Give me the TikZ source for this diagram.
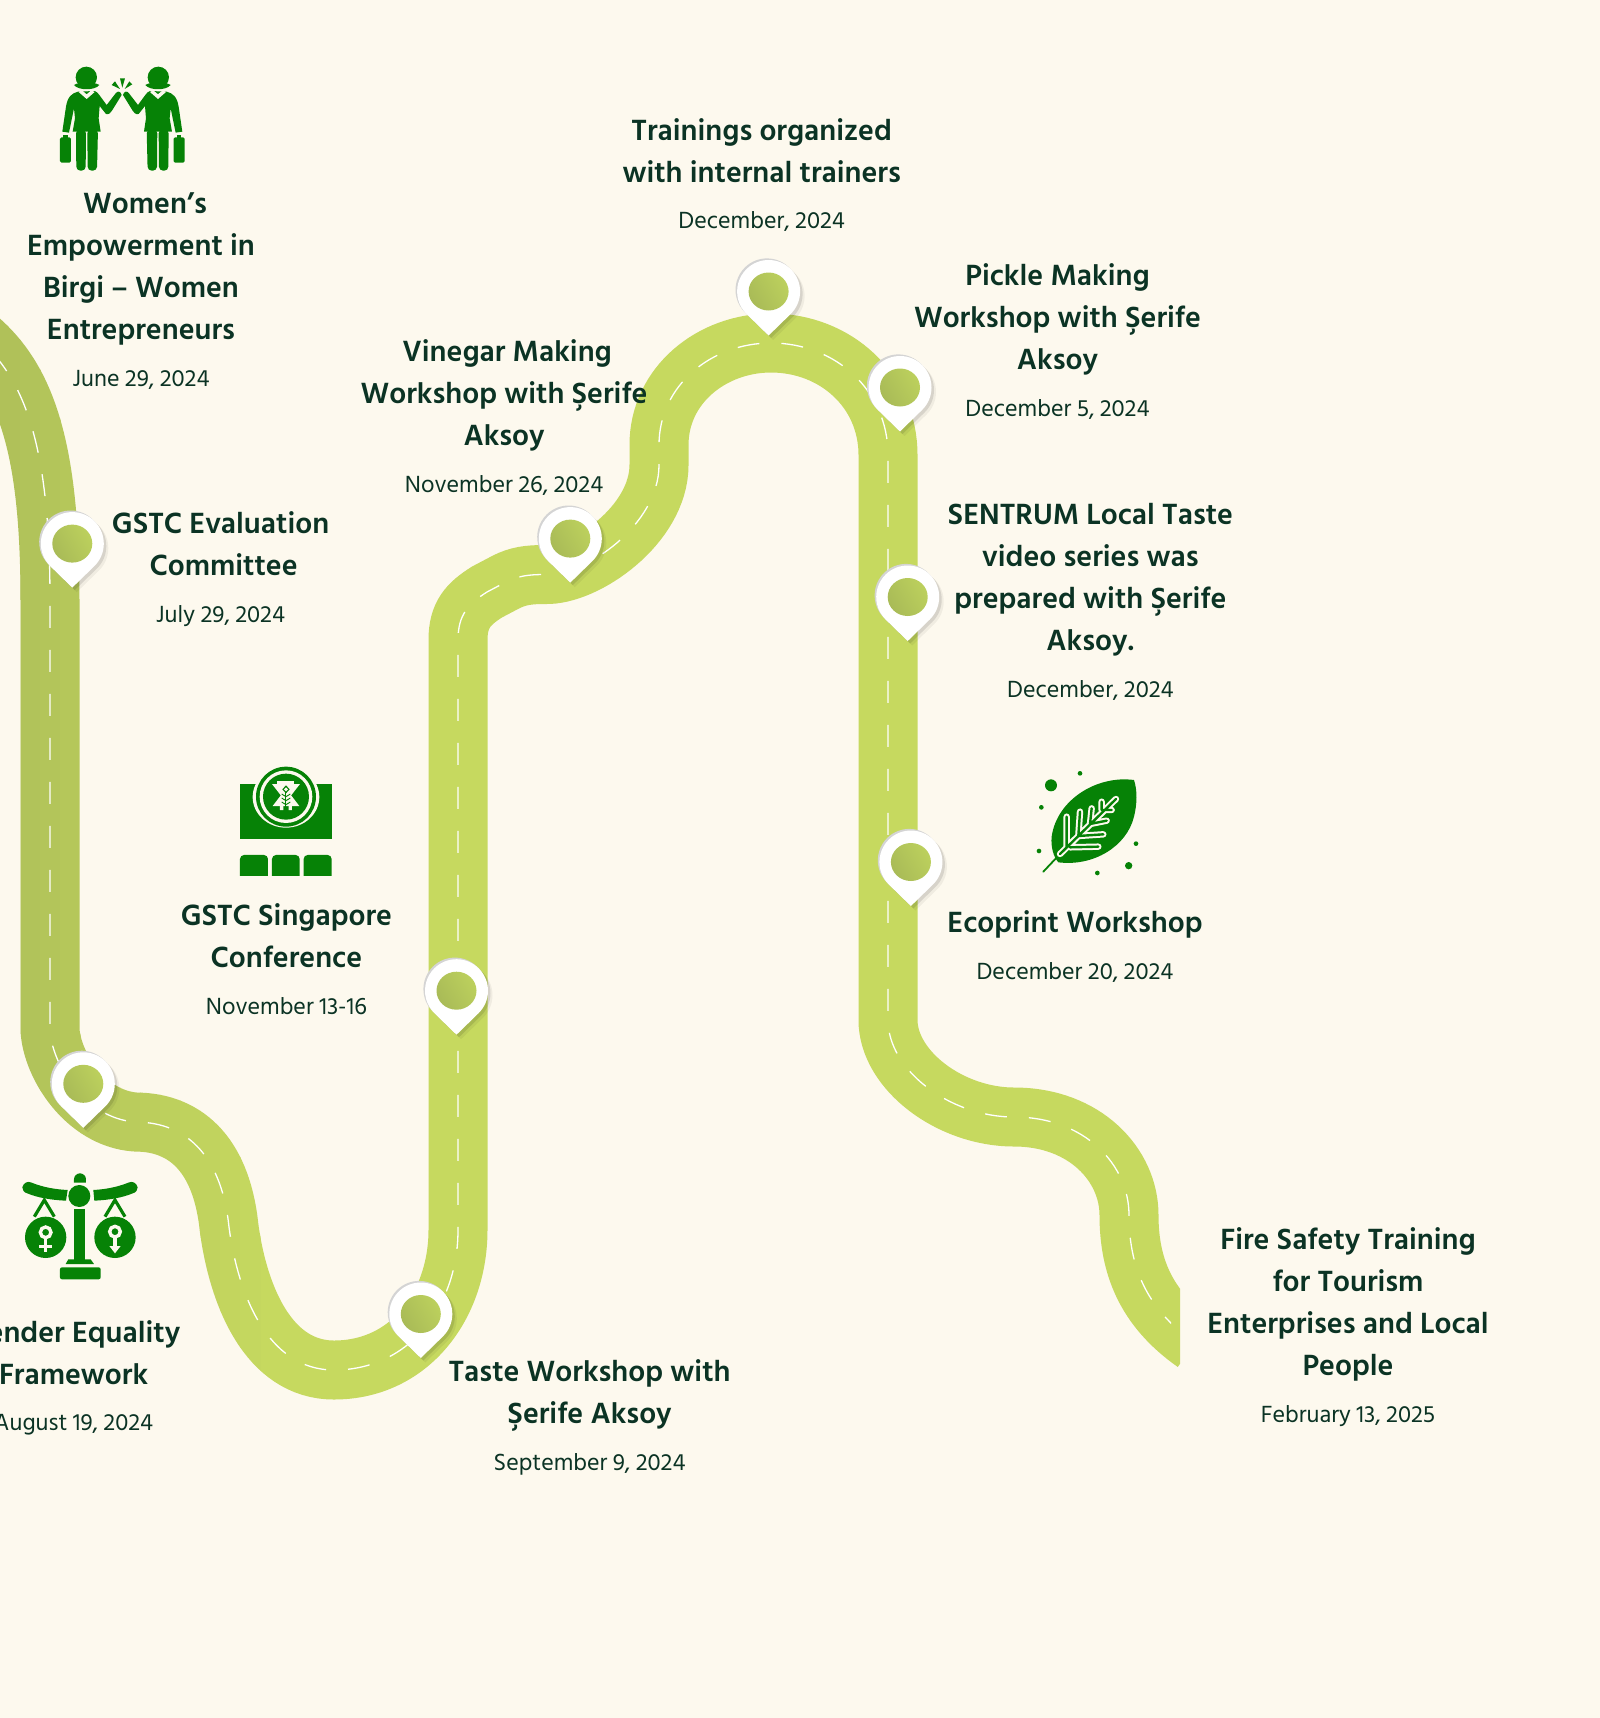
\documentclass[tikz,border=0pt]{standalone}
\usepackage{fontspec}
\setmainfont{Hind Siliguri}
\usetikzlibrary{positioning}

\definecolor{paper}{HTML}{FDF9EE}
\definecolor{roadlight}{HTML}{C6D95F}
\definecolor{roaddark}{HTML}{B0C159}
\definecolor{pinlight}{HTML}{BCD05D}
\definecolor{pindark}{HTML}{A9BB57}
\definecolor{icongreen}{HTML}{068206}
\definecolor{inkgreen}{HTML}{0B3324}

\newcommand{\roadpath}{
  (-40,325) .. controls (20,365) and (50,430) .. (50,600) -- (50,1030)
  .. controls (52,1065) and (85,1118) .. (135,1122)
  .. controls (190,1122) and (222,1160) .. (229,1227)
  .. controls (238,1295) and (268,1370) .. (334,1370)
  .. controls (410,1370) and (458,1305) .. (458,1230) -- (458,640)
  .. controls (458,615) and (468,604) .. (487,592) -- (506,582)
  .. controls (518,576) and (528,574.5) .. (545,574.5)
  .. controls (585,576) and (659,525) .. (659,465) -- (659,445)
  .. controls (659,385) and (712,343) .. (771,343)
  .. controls (835,343) and (888,390) .. (888,455) -- (888,1020)
  .. controls (888,1070) and (950,1117) .. (1014,1117)
  .. controls (1085,1117) and (1129,1165) .. (1129,1215)
  .. controls (1129,1265) and (1145,1308) .. (1195,1343)
}
\newcommand{\pinshape}{
  (0,-44) -- (-45.7:31.5) arc[start angle=-45.7, end angle=225.7, radius=31.5] -- cycle
}
\newcommand{\womanfig}{
  \fill (259,112) circle[radius=32];
  \fill (222,135) .. controls (240,124) and (280,124) .. (298,135) .. controls (285,152) and (235,152) .. cycle;
  \fill (234,155) .. controls (215,160) and (203,170) .. (198,200) -- (187,275) -- (207,278) -- (222,205)
    -- (225,235) -- (218,275) -- (302,275) -- (296,235) -- (299,198) -- (318,222) .. controls (328,224) and (332,218) .. (336,212)
    -- (365,165) .. controls (362,153) and (352,152) .. (347,160) -- (320,195) -- (298,165) .. controls (294,158) and (290,156) .. (284,153) -- cycle;
  \fill[paper] (236,156) -- (246,151) -- (260,163) -- (274,151) -- (284,156) -- (260,177) -- cycle;
  \fill[rounded corners=4] (228,268) -- (229,392) -- (257,392) -- (258,268) -- cycle;
  \fill[rounded corners=4] (262,268) -- (263,392) -- (291,392) -- (294,268) -- cycle;
  \fill[rounded corners=1.5] (180,292) rectangle (213,368);
  \fill (190,296) rectangle (203,284);
}
\newcommand{\leafveins}{
  (150,312) -- (318,147) (170,292) -- (170,200) (205,258) -- (210,185) (240,222) -- (245,175) (275,180) -- (275,155)
  (180,292) -- (265,290) (205,258) -- (280,253) (240,222) -- (290,212) (280,180) -- (305,180)
}

\tikzset{
  roadline/.style={line width=59pt},
  dashline/.style={draw=white, line width=1.3pt, dash pattern=on 22pt off 22pt},
  titletext/.style={
    font=\fontsize{30}{42}\selectfont\bfseries, text=inkgreen, align=center, inner sep=0pt,
    execute at begin node=\strut, execute at end node=\strut
  },
  datetext/.style={
    font=\fontsize{24}{32}\selectfont, text=inkgreen, inner sep=0pt,
    execute at begin node=\strut
  },
  pin/.pic={
    \begin{scope}[y=1pt]
      \fill[black, opacity=.05] [shift={(4.5,-4.5)}] \pinshape;
      \fill[black, opacity=.10] [shift={(2.5,-2.5)}] \pinshape;
      \fill[black!17] [shift={(-1.6,1.6)}] \pinshape;
      \fill[white] \pinshape;
      \shade[shading=axis, left color=pindark, right color=pinlight, shading angle=120]
        (0,0) ellipse[x radius=20, y radius=19];
    \end{scope}
  }
}

\begin{document}
\begin{tikzpicture}[x=1pt, y=-1pt]

    \path[use as bounding box, clip] (0,0) rectangle (1600,1718);
    \fill[paper] (0,0) rectangle (1600,1718);

    % road, darker towards the left edge
    \begin{scope}
      \clip (260,0) rectangle (1180,1718);
      \draw[roadline, roadlight] \roadpath;
    \end{scope}
    \foreach \i in {0,...,12} {
      \pgfmathtruncatemacro{\mixval}{\i*100/13}
      \begin{scope}
        \clip (\i*20,0) rectangle (\i*20+20.5,1718);
        \draw[roadline, roadlight!\mixval!roaddark] \roadpath;
      \end{scope}
    }
    \begin{scope}
      \clip (0,0) rectangle (1171,1718);
      \draw[dashline] \roadpath;
    \end{scope}

    % pins
    \pic (pin_1) at (72.3,543.6) {pin};
    \pic (pin_2) at (83.3,1083.8) {pin};
    \pic (pin_3) at (420.8,1314) {pin};
    \pic (pin_4) at (456.5,990.7) {pin};
    \pic (pin_5) at (570.3,538.6) {pin};
    \pic (pin_6) at (768.6,291.5) {pin};
    \pic (pin_7) at (900,387.5) {pin};
    \pic (pin_8) at (907.7,597) {pin};
    \pic (pin_9) at (910.9,862) {pin};

    % labels
    \node[titletext] (T_1) at (141,272.3) {\hspace*{8pt}Women’s\\Empowerment in\\Birgi – Women\\Entrepreneurs};
    \node[datetext, below=11.5pt of T_1] (D_1) {June 29, 2024};

    \node[titletext] (T_2) at (220.6,550) {GSTC Evaluation\\\hspace*{6pt}Committee};
    \node[datetext, below=11.5pt of T_2] (D_2) {July 29, 2024};

    \node[titletext] (T_3) at (73.6,1359) {Gender Equality\\Framework};
    \node[datetext, below=10.5pt of T_3] (D_3) {August 19, 2024};

    \node[titletext] (T_4) at (286.4,942) {GSTC Singapore\\Conference};
    \node[datetext, below=11.5pt of T_4] (D_4) {November 13-16};

    \node[titletext] (T_5) at (589.6,1398) {Taste Workshop with\\Şerife Aksoy};
    \node[datetext, below=11.5pt of T_5] (D_5) {September 9, 2024};

    \node[titletext] (T_6) at (504.1,399) {\hspace*{6pt}Vinegar Making\\Workshop with Şerife\\Aksoy};
    \node[datetext, below=11.5pt of T_6] (D_6) {November 26, 2024};

    \node[titletext] (T_7) at (761.7,156.4) {Trainings organized\\with internal trainers};
    \node[datetext, below=11.5pt of T_7] (D_7) {December, 2024};

    \node[titletext] (T_8) at (1057.5,322.8) {Pickle Making\\Workshop with Şerife\\Aksoy};
    \node[datetext, below=11.5pt of T_8] (D_8) {December 5, 2024};

    \node[titletext] (T_9) at (1090.4,582.8) {SENTRUM Local Taste\\video series was\\prepared with Şerife\\Aksoy.};
    \node[datetext, below=11.5pt of T_9] (D_9) {December, 2024};

    \node[titletext] (T_10) at (1075,924.5) {Ecoprint Workshop};
    \node[datetext, below=11.5pt of T_10] (D_10) {December 20, 2024};

    \node[titletext] (T_11) at (1348,1308) {Fire Safety Training\\for Tourism\\Enterprises and Local\\People};
    \node[datetext, below=11.5pt of T_11] (D_11) {February 13, 2025};

    % two women
    \begin{scope}[shift={(0,40)}, x=.3333pt, y=-.3333pt, fill=icongreen]
      \womanfig
      \begin{scope}[shift={(734,0)}, xscale=-1]
        \womanfig
      \end{scope}
      \fill (335,135) -- (345,124) -- (360,147) -- cycle;
      \fill (360,115) -- (375,115) -- (367,143) -- cycle;
      \fill (397,133) -- (388,124) -- (374,147) -- cycle;
    \end{scope}

    % conference badge
    \begin{scope}[shift={(200,740)}, x=.3333pt, y=-.3333pt, fill=icongreen]
      \fill (120,132) rectangle (395,296);
      \fill[paper] (258,171) ellipse[x radius=100, y radius=92];
      \fill (258,170) circle[radius=90];
      \fill[paper] (258,170) circle[radius=79];
      \fill (258,170) circle[radius=69];
      \fill[paper] (232,122) rectangle (283,132);
      \fill[paper] (216,132) -- (300,132) -- (258,186) -- cycle;
      \fill[paper] (218,198) -- (298,198) -- (258,146) -- cycle;
      \fill[paper] (240,196) rectangle (250,210) (266,196) rectangle (276,210);
      \draw[icongreen, line width=1pt] (258,150) -- (258,208);
      \foreach \y in {166,178,190} {
        \draw[icongreen, line width=.9pt] (245,\y-4) -- (258,\y+4) -- (271,\y-4);
      }
      \fill (258,136) -- (269,148) -- (258,160) -- (247,148) -- cycle;
      \fill[paper] (258,142) -- (264,148) -- (258,154) -- (252,148) -- cycle;
      \fill (120,408) [rounded corners=4] -- (120,345) -- (204,345) [sharp corners] -- (204,408) -- cycle;
      \fill (216,408) [rounded corners=4] -- (216,345) -- (299,345) [sharp corners] -- (299,408) -- cycle;
      \fill (311,408) [rounded corners=4] -- (311,345) -- (395,345) [sharp corners] -- (395,408) -- cycle;
    \end{scope}

    % leaf
    \begin{scope}[shift={(1010,750)}, x=.3333pt, y=-.3333pt, fill=icongreen]
      \fill (372,90) .. controls (260,75) and (140,150) .. (125,260) .. controls (122,290) and (130,320) .. (145,337)
        .. controls (250,350) and (350,290) .. (372,200) .. controls (382,160) and (382,120) .. (372,90) -- cycle;
      \draw[icongreen, line width=1.8pt, line cap=round] (100,365) -- (150,312);
      \draw[paper, line width=6.4pt, line cap=round] \leafveins;
      \draw[icongreen, line width=2.4pt, line cap=round] \leafveins;
      \fill (123,106) circle[radius=18];
      \fill (356,347) circle[radius=11];
      \foreach \dotx/\doty in {210/70, 94/172, 87/303, 378/281, 262/369} {
        \fill (\dotx,\doty) circle[radius=7];
      }
    \end{scope}

    % scales
    \begin{scope}[shift={(0,1150)}, x=.3333pt, y=-.3333pt, fill=icongreen]
      \fill (67,112) .. controls (70,98) and (84,92) .. (95,98) .. controls (130,112) and (165,118) .. (203,120)
        -- (198,152) .. controls (150,150) and (110,142) .. (82,130) .. controls (72,128) and (67,120) .. (67,112) -- cycle;
      \fill (413,112) .. controls (410,98) and (396,92) .. (385,98) .. controls (350,112) and (315,118) .. (280,120)
        -- (283,152) .. controls (330,150) and (370,142) .. (398,130) .. controls (408,128) and (413,120) .. (413,112) -- cycle;
      \fill (222,98) -- (222,88) arc[start angle=180, end angle=360, radius=18] -- (258,98) -- cycle;
      \fill (238,138) circle[radius=33];
      \fill (222,178) rectangle (255,330);
      \fill (205,328) -- (272,328) -- (282,342) -- (197,342) -- cycle;
      \fill[rounded corners=2] (180,352) rectangle (302,388);
      \draw[icongreen, line width=3.2pt] (103,200) -- (133,150) -- (163,200);
      \draw[icongreen, line width=3.2pt] (315,200) -- (345,150) -- (375,200);
      \fill (137,262) circle[radius=62];
      \fill (345,262) circle[radius=62];
      \draw[paper, line width=3.4pt] (137,247) circle[radius=16];
      \draw[paper, line width=3.4pt] (137,264) -- (137,306) (118,289) -- (156,289);
      \draw[paper, line width=3.4pt] (345,245) circle[radius=16];
      \draw[paper, line width=3.4pt] (345,262) -- (345,295);
      \fill[paper] (328,288) -- (362,288) -- (345,310) -- cycle;
    \end{scope}
\end{tikzpicture}
\end{document}
